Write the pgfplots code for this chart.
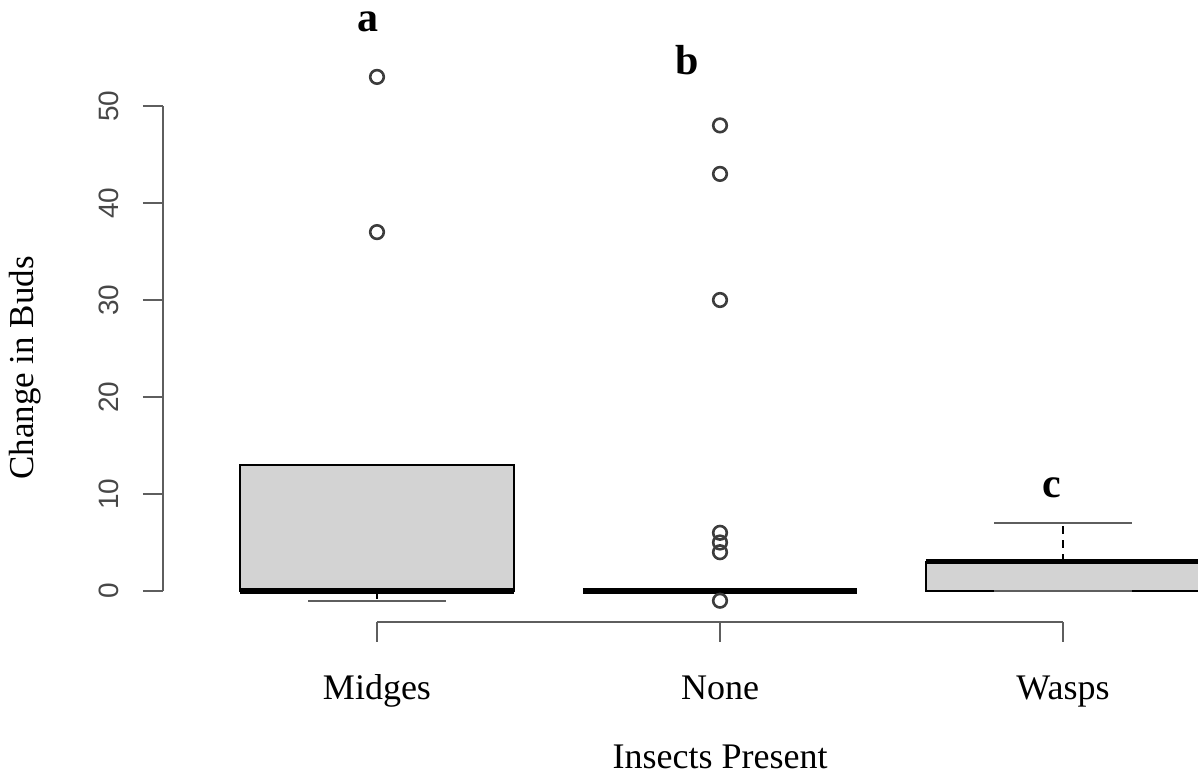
\documentclass[border=0pt]{standalone}
\usepackage{fontspec}
\setmainfont{Liberation Serif}
\setsansfont{Liberation Sans}
\usepackage{pgfplots}
\pgfplotsset{compat=1.18}
\definecolor{boxgray}{HTML}{D3D3D3}
\definecolor{axgray}{HTML}{5E5E5E}
\definecolor{ptgray}{HTML}{3C3C3C}

\begin{document}
\begin{tikzpicture}[x=1pt,y=1pt]
\useasboundingbox (-81.5,-76) rectangle (517.5,311);
\begin{axis}[
  at={(0,0)}, anchor=south west,
  scale only axis, width=517.5pt, height=311pt,
  xmin=0.3761, xmax=3.3936, ymin=-3.196, ymax=60.93,
  axis x line*=bottom, axis y line*=left,
  axis line style={draw=none},
  clip=false,
  xtick={1,2,3}, xticklabels={Midges,None,Wasps},
  ytick={0,10,20,30,40,50},
  tick align=outside,
  major tick length=10pt,
  tick style={axgray, line width=0.9pt},
  /pgf/number format/assume math mode=true,
  xticklabel style={font=\fontsize{18}{18}\selectfont, anchor=base, inner sep=0pt},
  xticklabel shift=29pt,
  yticklabel style={font=\sffamily\fontsize{14}{14}\selectfont, text=black!72, rotate=90, anchor=south, inner sep=0pt},
  yticklabel shift=12pt,
  xlabel={Insects Present},
  xlabel style={at={(axis description cs:0.5382,-0.2363)}, anchor=base, font=\fontsize{18}{18}\selectfont},
  ylabel={Change in Buds},
  ylabel style={at={(axis description cs:-0.1333,0.4084)}, anchor=center, font=\fontsize{17.5}{17.5}\selectfont},
]
% axis lines (R style)
\draw[axgray, line width=0.9pt] (axis cs:1,-3.196) -- (axis cs:3,-3.196);
\draw[axgray, line width=0.9pt] (axis cs:0.3761,0) -- (axis cs:0.3761,50);

% Midges: lw=-1, q1=0, med=0, q3=13, uw=13
\addplot[draw=black, fill=boxgray, line width=0.9pt] coordinates {(0.6,0) (1.4,0) (1.4,13) (0.6,13)} -- cycle;
\addplot[black, line width=0.9pt, dash pattern=on 4pt off 3pt] coordinates {(1,0) (1,-1)};
\addplot[axgray, line width=0.9pt] coordinates {(0.8,-1) (1.2,-1)};
\addplot[black, line width=2.6pt] coordinates {(0.6,0) (1.4,0)};

% None: all quartiles 0
\addplot[axgray, line width=0.9pt] coordinates {(1.8,0) (2.2,0)};
\addplot[black, line width=2.6pt] coordinates {(1.6,0) (2.4,0)};

% Wasps: lw=0, q1=0, med=3, q3=3, uw=7
\addplot[draw=black, fill=boxgray, line width=0.9pt] coordinates {(2.6,0) (3.4,0) (3.4,3) (2.6,3)} -- cycle;
\addplot[axgray, line width=1.2pt] coordinates {(2.8,0) (3.2,0)};
\addplot[black, line width=0.9pt, dash pattern=on 4pt off 3pt] coordinates {(3,3) (3,7)};
\addplot[axgray, line width=0.9pt] coordinates {(2.8,7) (3.2,7)};
\addplot[black, line width=2.6pt] coordinates {(2.6,3) (3.4,3)};

% outliers
\addplot[only marks, mark=o, mark size=3.4pt, mark options={draw=ptgray, line width=1.3pt}] coordinates {
 (1,37) (1,53)
 (2,48) (2,43) (2,30) (2,6) (2,5) (2,4) (2,-1)
};

% significance letters
\node[font=\bfseries\fontsize{21}{21}\selectfont] at (axis cs:0.974,58.66) {a};
\node[font=\bfseries\fontsize{21}{21}\selectfont] at (axis cs:1.904,54.74) {b};
\node[font=\bfseries\fontsize{21}{21}\selectfont] at (axis cs:2.968,10.62) {c};
\end{axis}
\end{tikzpicture}
\end{document}
